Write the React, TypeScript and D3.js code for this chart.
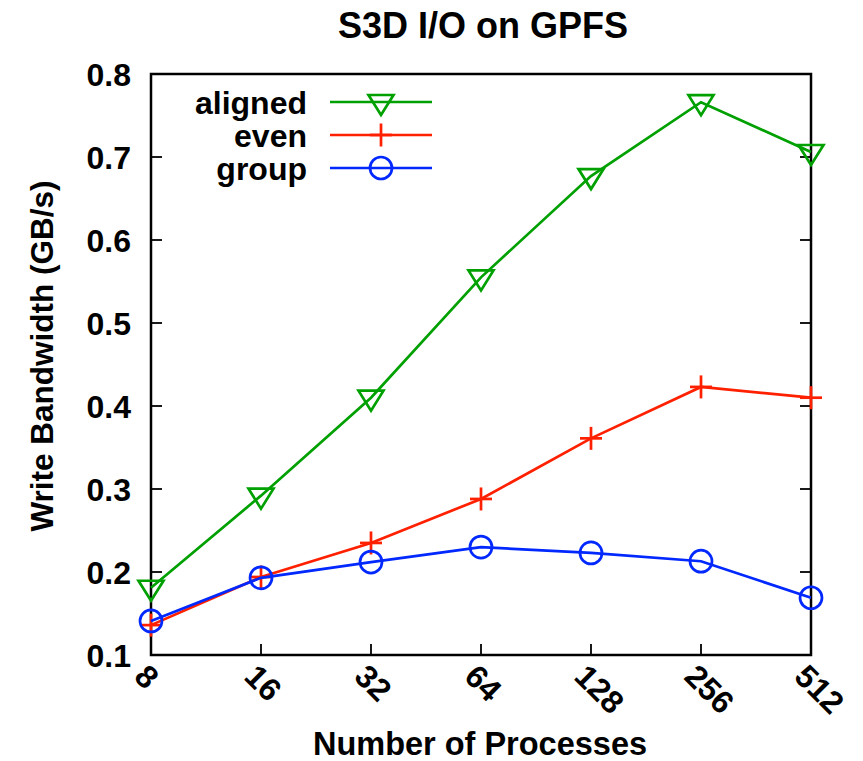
import React from 'react';
import * as d3 from 'd3';

// process counts on the x axis
const procs = [8, 16, 32, 64, 128, 256, 512];
// write bandwidth in GB/s
const aligned = [0.181, 0.292, 0.41, 0.555, 0.677, 0.766, 0.706];
const even = [0.136, 0.194, 0.235, 0.288, 0.361, 0.423, 0.41];
const group = [0.141, 0.193, 0.212, 0.23, 0.223, 0.213, 0.169];
const yTicks = [0.1, 0.2, 0.3, 0.4, 0.5, 0.6, 0.7, 0.8];

const font = '"Liberation Sans", Arial, Helvetica, sans-serif';
const lw = 2.7;

const series = [
  { name: 'aligned', values: aligned, color: '#00a000', marker: 'tri' },
  { name: 'even', values: even, color: '#ff2000', marker: 'plus' },
  { name: 'group', values: group, color: '#0028ff', marker: 'circle' },
];

function Marker({ type, x, y, color }: { type: string; x: number; y: number; color: string }) {
  if (type === 'tri') {
    const pts = `${x - 12.5},${y - 7} ${x + 12.5},${y - 7} ${x},${y + 13}`;
    return <polygon points={pts} fill="none" stroke={color} strokeWidth={lw} />;
  }
  if (type === 'plus') {
    return (
      <g stroke={color} strokeWidth={lw}>
        <line x1={x - 11} x2={x + 11} y1={y} y2={y} />
        <line x1={x} x2={x} y1={y - 11.5} y2={y + 11.5} />
      </g>
    );
  }
  return <circle cx={x} cy={y} r={11} fill="none" stroke={color} strokeWidth={lw} />;
}

export default function App() {
  const width = 863;
  const height = 761;
  const margin = { top: 74, right: 52, bottom: 106, left: 151 };

  // log2 scale puts the doubling process counts evenly apart
  const x = d3.scaleLog().base(2).domain([8, 512]).range([margin.left, width - margin.right]);
  const y = d3.scaleLinear().domain([0.1, 0.8]).range([height - margin.bottom, margin.top]);

  const line = d3.line<number>()
    .x((d, i) => x(procs[i]))
    .y((d) => y(d));

  const x0 = x.range()[0], x1 = x.range()[1];
  const y0 = y.range()[0], y1 = y.range()[1];

  return (
    <svg width={width} height={height} style={{ position: 'absolute', left: 0, top: 0, background: '#fff' }}
      fontFamily={font} fontWeight="bold">
      <text x={483} y={38} textAnchor="middle" fontSize={36}>S3D I/O on GPFS</text>

      {/* y ticks, mirrored on the right */}
      {yTicks.map((t) => (
        <g key={t}>
          <line x1={x0} x2={x0 + 11} y1={y(t)} y2={y(t)} stroke="#000" strokeWidth={1.8} />
          <line x1={x1 - 11} x2={x1} y1={y(t)} y2={y(t)} stroke="#000" strokeWidth={1.8} />
          <text x={131} y={y(t)} dy="0.36em" textAnchor="end" fontSize={32}>{t.toFixed(1)}</text>
        </g>
      ))}

      {/* x ticks at the bottom only */}
      {procs.map((p) => (
        <g key={p}>
          <line x1={x(p)} x2={x(p)} y1={y0} y2={y0 - 11} stroke="#000" strokeWidth={1.8} />
          <text transform={`translate(${x(p) - 10},${y0 + 15}) rotate(45)`} dy="0.36em" textAnchor="start" fontSize={32}>{p}</text>
        </g>
      ))}

      <rect x={x0} y={y1} width={x1 - x0} height={y0 - y1} fill="none" stroke="#000" strokeWidth={2.5} />

      <text transform="translate(53,356) rotate(-90)" textAnchor="middle" fontSize={31.5}>Write Bandwidth (GB/s)</text>
      <text x={480} y={755} textAnchor="middle" fontSize={32.5}>Number of Processes</text>

      {series.map((s) => (
        <g key={s.name}>
          <path d={line(s.values) || ''} fill="none" stroke={s.color} strokeWidth={lw} />
          {s.values.map((v, i) => (
            <Marker key={i} type={s.marker} x={x(procs[i])} y={y(v)} color={s.color} />
          ))}
        </g>
      ))}

      {/* legend */}
      {series.map((s, i) => {
        const ly = 102 + i * 33;
        return (
          <g key={s.name}>
            <text x={307} y={ly} dy="0.36em" textAnchor="end" fontSize={32}>{s.name}</text>
            <line x1={330} x2={432} y1={ly} y2={ly} stroke={s.color} strokeWidth={lw} />
            <Marker type={s.marker} x={381} y={ly} color={s.color} />
          </g>
        );
      })}
    </svg>
  );
}
